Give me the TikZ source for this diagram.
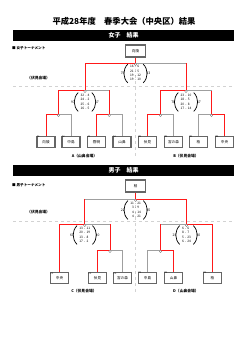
\documentclass[tikz,border=0pt]{standalone}
\usepackage{fontspec}
\setmainfont{Noto Sans CJK JP}
\usetikzlibrary{positioning}
\newcommand\fs[1]{\fontsize{#1}{#1}\selectfont}
% one match: name, position, left total, rows, right total
\newcommand\game[5]{%
  \node[score] (#1) at (#2) {\begin{tabular}{@{}r@{\hspace{1.2pt}-\hspace{1.2pt}}l@{}}#4\end{tabular}};
  \draw[paren] (#1.north west) to[bend right=45] (#1.south west);
  \draw[paren] (#1.north east) to[bend left=45] (#1.south east);
  \node[total, left=3pt of #1] (#1l) {#3};
  \node[total, right=3pt of #1] (#1r) {#5};}
\tikzset{
  win/.style={draw=red!90!white, line width=0.9pt},
  lose/.style={draw=gray!75, line width=0.6pt},
  team/.style={draw=gray!80!black, line width=1.1pt, fill=white, minimum width=18pt, minimum height=11.5pt, inner sep=0pt, font=\fs{3.6}},
  champ/.style={team, minimum width=20pt, minimum height=12pt},
  tag/.style={font=\fs{2.3}, inner sep=0.4pt, anchor=north west},
  jmk/.style={circle, draw=gray, fill=white, line width=0.3pt, minimum size=2.4pt, inner sep=0pt, anchor=north},
  score/.style={font=\fontsize{3.2}{4.3}\selectfont, inner ysep=0.6pt, inner xsep=2.2pt},
  total/.style={font=\fs{3.4}, inner sep=0pt},
  paren/.style={line width=0.7pt},
  bar/.style={fill=black, text=white, font=\bfseries\fs{6}, minimum width=221pt, minimum height=11pt, inner sep=0pt},
  head/.style={font=\bfseries\fs{3.6}, anchor=west, inner sep=0pt},
  venue/.style={font=\bfseries\fs{3.8}, inner sep=0pt},
  guide/.style={draw=gray!35, dashed, line width=0.4pt}
}
\begin{document}
\begin{tikzpicture}[x=1pt,y=-1pt]
  \useasboundingbox (0,0) rectangle (250,353);
  \node[font=\bfseries\fs{8.3}] (title) at (124,21) {平成28年度　春季大会（中央区）結果};

  % girls
  \node[bar] (barF) at (123.5,35.5) {女子　結果};
  \node[head] (headF) at (12,48) {■ 女子トーナメント};
  \node[venue, anchor=west] (siteF) at (27,78) {（伏見会場）};
  \coordinate (jF) at (135.5,63); \coordinate (jA) at (85,90); \coordinate (jB) at (186,90);
  \coordinate (jA12) at (58.5,114); \coordinate (jA34) at (109.25,114);
  \coordinate (jB12) at (160.5,114); \coordinate (jB34) at (211.5,114);
  \draw[guide] (13,86) -- (234,86); \draw[guide] (jF) -- ++(0,94);
  \node[champ] (FW) at (135.5,51) {向陵};
  \foreach \n/\x/\t in {A1/46/向陵, A2/71/中島, A3/96.5/啓明, A4/122/山鼻, B1/147.5/伏見, B2/173.5/宮の森, B3/198.5/柏, B4/224.5/中央}
    {\node[team] (\n) at (\x,142) {\t}; \node[tag] at (\n.north west) {\n};}
  \draw[win] (A1.north) |- (jA12) |- (jA) |- (jF) -- (FW.south);
  \draw[lose] (A2.north) |- (jA12);
  \draw[win] (A3.north) |- (jA34) -- (jA34 |- jA);
  \draw[lose] (A4.north) |- (jA34); \draw[lose] (jA34 |- jA) -- (jA);
  \draw[win] (B1.north) |- (jB12) |- (jB) -- (jB |- jF);
  \draw[lose] (B2.north) |- (jB12);
  \draw[win] (B4.north) |- (jB34) -- (jB34 |- jB);
  \draw[lose] (B3.north) |- (jB34); \draw[lose] (jB34 |- jB) -- (jB);
  \draw[lose] (jB |- jF) -- (jF);
  \foreach \j in {jF,jA,jB,jA12,jA34,jB12,jB34} \node[jmk] at (\j) {};
  \game{gF}{135.5,73.5}{75}{16&6\\21&5\\19&12\\19&10}{33}
  \game{gA}{85,102}{97}{32&4\\24&2\\25&6\\16&5}{17}
  \game{gB}{186,102}{78}{23&10\\18&5\\20&8\\17&14}{37}
  \node[venue] (siteA) at (84.5,156) {A（山鼻会場）};
  \node[venue] (siteB) at (186,156) {B（伏見会場）};

  % boys
  \node[bar] (barM) at (123.5,170.5) {男子　結果};
  \node[head] (headM) at (12,185) {■ 男子トーナメント};
  \node[venue, anchor=west] (siteM) at (27,212) {（伏見会場）};
  \coordinate (jM) at (135.6,199); \coordinate (jC) at (84.75,224); \coordinate (jD) at (186.5,224);
  \coordinate (jC23) at (110,250); \coordinate (jD12) at (160.5,250);
  \draw[guide] (13,221) -- (234,221); \draw[guide] (jM) -- ++(0,95);
  \node[champ] (MW) at (135.6,186) {柏};
  \foreach \n/\x/\t in {C1/59.5/中央, C2/97.5/伏見, C3/122.5/宮の森, D1/147.5/中島, D2/173.5/山鼻, D3/212.5/柏}
    {\node[team] (\n) at (\x,278) {\t}; \node[tag] at (\n.north west) {\n};}
  \draw[win] (C1.north) |- (jC) -- (jC |- jM);
  \draw[lose] (jC |- jM) -- (jM);
  \draw[win] (C2.north) |- (jC23) -- (jC23 |- jC);
  \draw[lose] (C3.north) |- (jC23); \draw[lose] (jC23 |- jC) -- (jC);
  \draw[lose] (D1.north) |- (jD12);
  \draw[win] (D2.north) |- (jD12) -- (jD12 |- jD);
  \draw[lose] (jD12 |- jD) -- (jD);
  \draw[win] (D3.north) |- (jD) |- (jM) -- (MW.south);
  \foreach \j in {jM,jC,jD,jC23,jD12} \node[jmk] at (\j) {};
  \game{gM}{135.6,210}{22}{11&21\\3&9\\4&14\\4&21}{65}
  \game{gC}{84.75,235}{63}{13&11\\20&19\\13&8\\17&2}{40}
  \game{gD}{186.5,235}{25}{6&6\\8&7\\5&23\\6&24}{60}
  \node[venue] (siteC) at (84,291) {C（伏見会場）};
  \node[venue] (siteD) at (186,291) {D（山鼻会場）};
\end{tikzpicture}
\end{document}
